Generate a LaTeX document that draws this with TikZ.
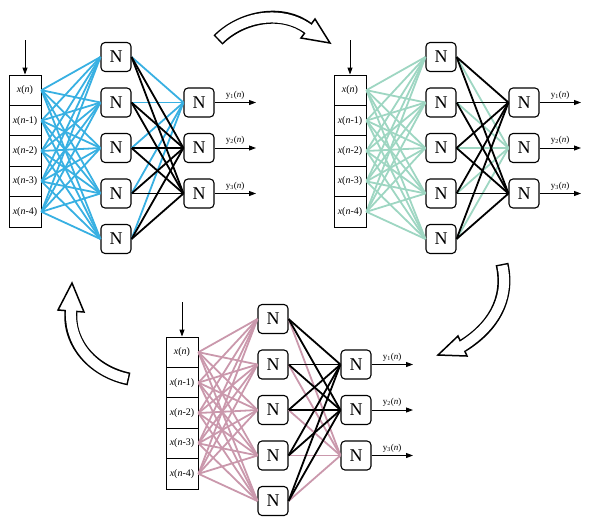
\documentclass[tikz,border=0pt]{standalone}
\usepackage{fontspec}
\setmainfont{Liberation Serif}
\usetikzlibrary{arrows.meta}
\definecolor{netblue}{RGB}{56,176,226}
\definecolor{netgreen}{RGB}{158,214,194}
\definecolor{netpink}{RGB}{202,152,172}
\tikzset{
 neuron/.style={draw, line width=1.1pt, rounded corners=4pt, minimum width=30pt, minimum height=29pt, inner sep=0pt, font=\fontsize{18}{18}\selectfont, fill=white},
 cell/.style={draw, line width=0.9pt, minimum width=32pt, minimum height=30.4pt, inner sep=0pt, font=\fontsize{10}{10}\selectfont},
 wire/.style={line width=1.8pt},
 sig/.style={line width=0.9pt, -{Triangle[length=7pt,width=5pt]}},
 outlabel/.style={font=\fontsize{9}{9}\selectfont, inner sep=1pt, anchor=south},
}
\newcommand{\mynet}[5]{%
 \begin{scope}[shift={(#1,#2)}]
  \foreach \i/\t in {1/{\textit{x}(\textit{n})},2/{\textit{x}(\textit{n}-1)},3/{\textit{x}(\textit{n}-2)},4/{\textit{x}(\textit{n}-3)},5/{\textit{x}(\textit{n}-4)}}
   \node[cell] (#4i\i) at (16,{15.2+30.4*(\i-1)}) {\t};
  \foreach \j in {1,...,5}
   \node[neuron] (#4h\j) at (107,{-18+45.5*(\j-1)}) {N};
  \foreach \k in {1,2,3} {
   \node[neuron] (#4o\k) at (190,{27.5+45.5*(\k-1)}) {N};
   \coordinate (#4e\k) at (247,{27.5+45.5*(\k-1)});
   \node[outlabel] (#4l\k) at (226,{25.5+45.5*(\k-1)}) {y\textsubscript{\k}(\textit{n})};
   \draw[sig] (#4o\k.east) -- (#4e\k);
  }
  \coordinate (#4s) at (16,-35);
  \draw[sig] (#4s) -- (#4i1.north);
  \foreach \i in {1,...,5} \foreach \j in {1,...,5}
   \draw[wire,#3] (#4i\i.east) -- (#4h\j.west);
  \foreach \j in {1,...,5}
   \draw[wire,#3] (#4h\j.east) -- (#4o#5.west);
  \foreach \j in {1,...,5} \foreach \k in {1,2,3} {
   \ifnum\k=#5\relax\else \draw[wire,black] (#4h\j.east) -- (#4o\k.west);\fi
  }
 \end{scope}}
\newcommand{\hollowarrow}[7]{%
 \draw[line width=13pt, black] #1 .. controls #2 and #3 .. #4;
 \draw[line width=1.5pt, fill=white, line join=miter] #5 -- #6 -- #7 -- cycle;
 \draw[line width=10pt, white, shorten <=1.5pt, shorten >=-2.5pt] #1 .. controls #2 and #3 .. #4;
}
\begin{document}
\begin{tikzpicture}[x=1pt,y=-1pt]
 \useasboundingbox (0,0) rectangle (596,523);
 \mynet{9}{75}{netblue}{A}{1}
 \mynet{334}{75}{netgreen}{B}{2}
 \mynet{166}{337}{netpink}{C}{3}
 \hollowarrow{(218,40)}{(242,16)}{(283,9)}{(308,28.5)}{(315,19)}{(330,43)}{(301,38)}
 \hollowarrow{(502,264)}{(510,300)}{(492,328)}{(462.5,346)}{(458,336)}{(438,355)}{(467,356)}
 \hollowarrow{(129,379)}{(95,372)}{(68,345)}{(71,311)}{(58,310)}{(72,283)}{(84,312)}
\end{tikzpicture}
\end{document}
